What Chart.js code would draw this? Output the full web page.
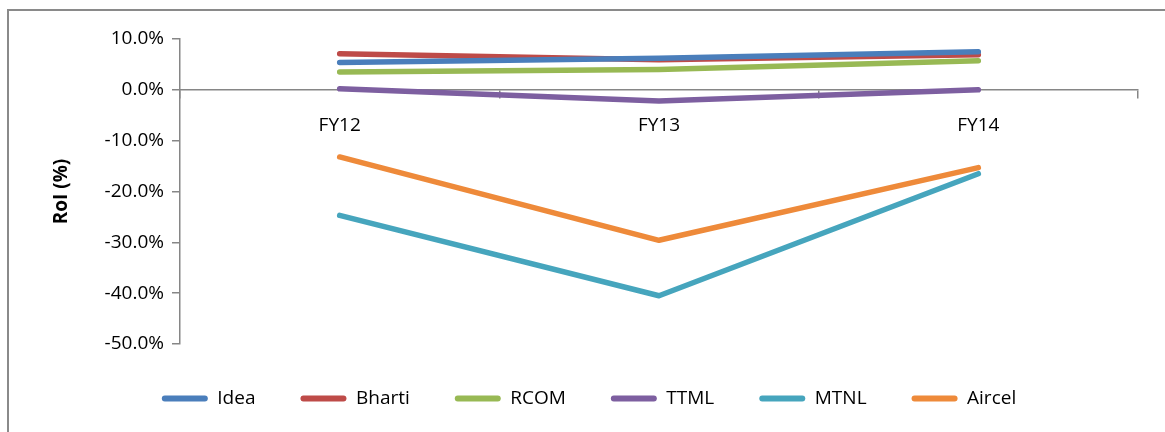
<!DOCTYPE html>
<html>
<head>
<meta charset="utf-8">
<script src="https://cdn.jsdelivr.net/npm/chart.js@4/dist/chart.umd.min.js"></script>
<style>
  body { margin: 0; background: #fff; }
  #wrap { position: relative; width: 1165px; height: 432px; }
  #frame { position: absolute; left: 7px; top: 9px; right: 0; bottom: 0;
           border-top: 2px solid #8a8a8a; border-left: 2px solid #8a8a8a; }
  canvas { position: absolute; left: 0; top: 0; }
</style>
</head>
<body>
<div id="wrap">
  <div id="frame"></div>
  <canvas id="roiChart" width="1165" height="432"></canvas>
</div>
<script>
const years = ['FY12', 'FY13', 'FY14'];
const idea = [5.4, 6.2, 7.5];
const bharti = [7.1, 5.9, 6.9];
const rcom = [3.5, 4.0, 5.7];
const ttml = [0.2, -2.2, 0.0];
const mtnl = [-24.7, -40.5, -16.5];
const aircel = [-13.2, -29.6, -15.3];

const axisGrey = '#868686';
const font = "'Open Sans', 'Liberation Sans', sans-serif";

function series(label, data, color) {
    return {
        label: label,
        data: data,
        borderColor: color,
        backgroundColor: color,
        borderWidth: 5.5,
        borderCapStyle: 'round',
        borderJoinStyle: 'round',
        tension: 0,
        pointRadius: 0,
        fill: false
    };
}

const ctx = document.getElementById('roiChart').getContext('2d');
new Chart(ctx, {
    type: 'line',
    data: {
        labels: years,
        datasets: [
            series('Idea', idea, '#4a7ebb'),
            series('Bharti', bharti, '#be4b48'),
            series('RCOM', rcom, '#98b954'),
            series('TTML', ttml, '#7d5fa0'),
            series('MTNL', mtnl, '#46a5bd'),
            series('Aircel', aircel, '#ee8a3a')
        ]
    },
    options: {
        responsive: false,
        animation: false,
        layout: { padding: { left: 40, right: 27, top: 39, bottom: 14 } },
        plugins: {
            tooltip: { enabled: false },
            legend: {
                position: 'bottom',
                labels: {
                    font: { family: font, size: 19 },
                    color: '#000',
                    boxWidth: 46,
                    boxHeight: 6,
                    padding: 45,
                    useBorderRadius: true,
                    borderRadius: 3,
                    generateLabels: function(chart) {
                        const items = Chart.defaults.plugins.legend.labels.generateLabels(chart);
                        items.forEach(item => { item.lineWidth = 0; });
                        return items;
                    }
                }
            }
        },
        scales: {
            x: {
                type: 'category',
                offset: true,
                position: { y: 0 },
                grid: { drawOnChartArea: false, offset: true, tickLength: 8, color: axisGrey, lineWidth: 1.5 },
                border: { color: axisGrey, width: 1.5 },
                ticks: { font: { family: font, size: 19 }, color: '#000', padding: 16, maxRotation: 0 }
            },
            y: {
                min: -50,
                max: 10,
                ticks: {
                    stepSize: 10,
                    font: { family: font, size: 19 },
                    color: '#000',
                    padding: 8,
                    callback: v => v.toFixed(1) + '%'
                },
                grid: { drawOnChartArea: false, tickLength: 8, color: axisGrey, lineWidth: 1.5 },
                border: { color: axisGrey, width: 1.5 },
                title: {
                    display: true,
                    text: 'RoI (%)',
                    font: { family: font, size: 19, weight: 'bold' },
                    color: '#000',
                    padding: { top: 10, bottom: 0 }
                },
                afterFit: function(scale) { scale.width = 140; }
            }
        }
    }
});
</script>
</body>
</html>
